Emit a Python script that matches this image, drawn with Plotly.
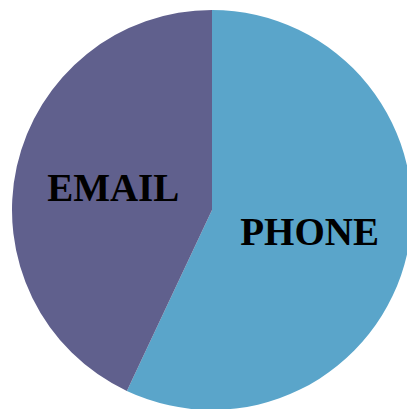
import plotly.graph_objects as go

labels = ["PHONE", "EMAIL"]
values = [57, 43]
colors = ["#5AA5CA", "#60608D"]

fig = go.Figure(go.Pie(
    labels=labels,
    values=values,
    sort=False,
    direction="clockwise",
    rotation=0,
    marker=dict(colors=colors, line=dict(width=0)),
    textinfo="label",
    textposition="inside",
    insidetextorientation="horizontal",
    textfont=dict(family="Liberation Serif", size=39, color="black", weight="bold"),
    hoverinfo="label+percent",
))

fig.update_layout(
    width=412, height=410,
    margin=dict(l=12, r=0, t=10, b=0),
    showlegend=False,
    paper_bgcolor="white",
)

fig.write_html(
    "out.html",
    config={"displayModeBar": False},
    post_script=(
        "document.body.style.margin='0';"
        "document.body.style.overflow='hidden';"
        "document.documentElement.style.overflow='hidden';"
    ),
)
